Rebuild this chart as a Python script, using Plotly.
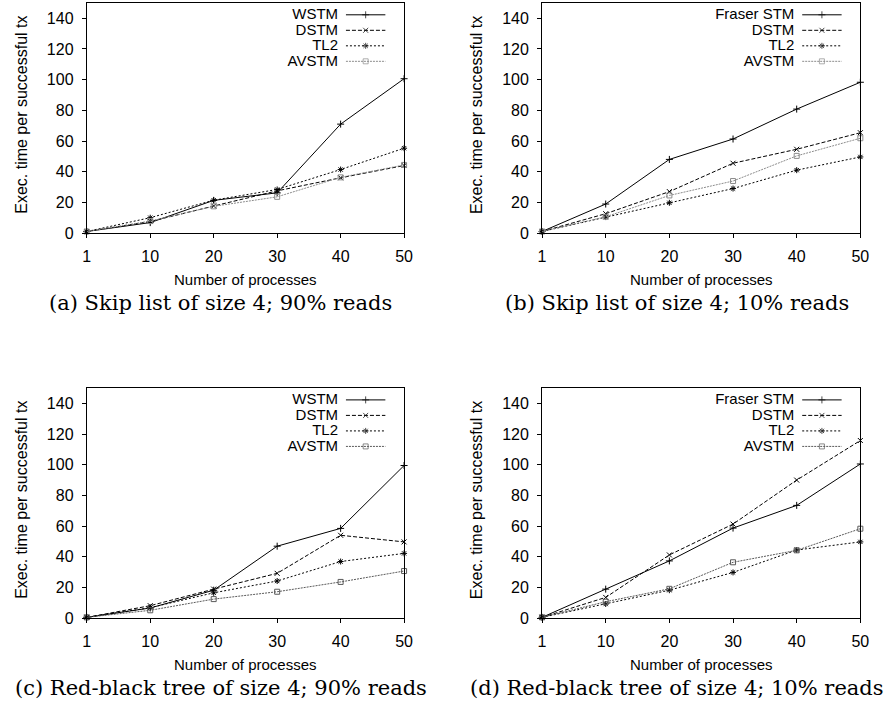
import plotly.graph_objects as go

W, H = 893, 715

procs = ["1", "10", "20", "30", "40", "50"]
y_ticks = [0, 20, 40, 60, 80, 100, 120, 140]

# (a) Skip list 90% reads
a_wstm = [1, 6.8, 21.3, 26.2, 71.0, 100.6]
a_dstm = [1, 7.5, 17.6, 27.5, 36.0, 44.0]
a_tl2 = [1, 10.0, 21.4, 28.4, 41.4, 55.3]
a_avstm = [1, 7.8, 17.4, 23.6, 36.3, 44.4]

# (b) Skip list 10% reads
b_fraser = [1, 18.9, 48.0, 61.3, 80.8, 98.3]
b_dstm = [1, 12.6, 27.0, 45.5, 54.6, 65.4]
b_tl2 = [1, 10.4, 19.7, 29.0, 41.0, 49.6]
b_avstm = [1, 10.6, 24.5, 33.9, 50.3, 61.8]

# (c) Red-black tree 90% reads
c_wstm = [0.5, 6.6, 18.2, 46.9, 58.5, 99.5]
c_dstm = [0.5, 8.1, 18.9, 29.2, 54.0, 49.7]
c_tl2 = [0.5, 6.8, 16.5, 24.2, 36.9, 42.2]
c_avstm = [0.5, 5.1, 12.4, 17.2, 23.6, 30.7]

# (d) Red-black tree 10% reads
d_fraser = [0.5, 18.9, 37.3, 58.7, 73.5, 100.5]
d_dstm = [0.5, 13.5, 41.2, 61.3, 90.0, 115.8]
d_tl2 = [0.5, 9.2, 18.2, 29.8, 44.4, 49.7]
d_avstm = [0.5, 10.7, 19.1, 36.4, 44.2, 58.3]

captions = [
    "(a) Skip list of size 4; 90% reads",
    "(b) Skip list of size 4; 10% reads",
    "(c) Red-black tree of size 4; 90% reads",
    "(d) Red-black tree of size 4; 10% reads",
]
x_title = "Number of processes"
y_title = "Exec. time per successful tx"

SANS = "Liberation Sans, Arial, sans-serif"
SERIF = "DejaVu Serif, serif"

# panel pixel boxes: (left, top, right, bottom)
boxes = [(84, 3, 406, 236), (546, 3, 869, 236), (84, 393, 406, 626), (546, 393, 869, 626)]

panels = [
    (["WSTM", "DSTM", "TL2", "AVSTM"], [a_wstm, a_dstm, a_tl2, a_avstm], "#8c8c8c"),
    (["Fraser STM", "DSTM", "TL2", "AVSTM"], [b_fraser, b_dstm, b_tl2, b_avstm], "#8c8c8c"),
    (["WSTM", "DSTM", "TL2", "AVSTM"], [c_wstm, c_dstm, c_tl2, c_avstm], "#5a5a5a"),
    (["Fraser STM", "DSTM", "TL2", "AVSTM"], [d_fraser, d_dstm, d_tl2, d_avstm], "#5a5a5a"),
]

styles = [
    dict(dash="solid", symbol="cross-thin", size=5),
    dict(dash="4px,2px", symbol="x-thin", size=5),
    dict(dash="2px,2px", symbol="asterisk", size=5),
    dict(dash="2px,1px", symbol="square-open", size=5),
]

fig = go.Figure()
layout = dict(
    width=W, height=H, margin=dict(l=0, r=0, t=0, b=0),
    paper_bgcolor="white", plot_bgcolor="rgba(0,0,0,0)", showlegend=False,
    font=dict(family=SANS, size=15, color="black"),
)
annotations = []

for i, ((names, series, grey), box) in enumerate(zip(panels, boxes)):
    L, T, R, B = box
    xa = "xaxis" if i == 0 else f"xaxis{i+1}"
    ya = "yaxis" if i == 0 else f"yaxis{i+1}"
    xr = "x" if i == 0 else f"x{i+1}"
    yr = "y" if i == 0 else f"y{i+1}"
    layout[xa] = dict(
        domain=[L / W, R / W], anchor=yr, type="category", range=[0, 5],
        showline=True, mirror=True, linecolor="black", linewidth=1,
        ticks="outside", ticklen=4, tickcolor="black", showgrid=False, zeroline=False,
        tickfont=dict(size=16, family=SANS), ticklabelstandoff=5,
    )
    layout[ya] = dict(
        domain=[1 - B / H, 1 - T / H], anchor=xr, range=[0, 150],
        tickvals=y_ticks, showline=True, mirror=True, linecolor="black", linewidth=1,
        ticks="outside", ticklen=4, tickcolor="black", showgrid=False, zeroline=False,
        tickfont=dict(size=16, family=SANS), ticklabelstandoff=5,
    )
    for j, (name, vals) in enumerate(zip(names, series)):
        st = styles[j]
        color = grey if j == 3 else "black"
        fig.add_trace(go.Scatter(
            x=procs, y=vals, xaxis=xr, yaxis=yr, mode="lines+markers", name=name,
            line=dict(color=color, width=1, dash=st["dash"]),
            marker=dict(symbol=st["symbol"], size=st["size"], color=color,
                        line=dict(color=color, width=1)),
            cliponaxis=False,
        ))
        # legend entry (manual, text left of sample)
        ly = T + 12 + j * 15.7
        fig.add_trace(go.Scatter(
            x=[R - 59, (R - 59 + R - 19) / 2, R - 19], y=[ly, ly, ly],
            xaxis="x9", yaxis="y9", mode="lines+markers", hoverinfo="skip",
            line=dict(color=color, width=1, dash=st["dash"]),
            marker=dict(symbol=st["symbol"], size=[0, st["size"], 0], color=color,
                        line=dict(color=color, width=1)),
        ))
        fig.add_trace(go.Scatter(
            x=[R - 67], y=[ly + 0.5], xaxis="x9", yaxis="y9", mode="text",
            text=[name], textposition="middle left", hoverinfo="skip",
            textfont=dict(size=15, family=SANS, color="black"),
        ))
    # axis titles
    annotations.append(dict(
        x=(L + R) / 2, y=B + 47, xref="x9", yref="y9", text=x_title, showarrow=False,
        xanchor="center", yanchor="middle", font=dict(size=15, family=SANS),
    ))
    annotations.append(dict(
        x=L - 67, y=(T + B) / 2 - 3, xref="x9", yref="y9", text=y_title, showarrow=False,
        textangle=-90, xanchor="center", yanchor="middle", font=dict(size=16, family=SANS),
    ))
    annotations.append(dict(
        x=(L + R) / 2 - 25, y=B + 71, xref="x9", yref="y9", text=captions[i], showarrow=False,
        xanchor="center", yanchor="middle", font=dict(size=21, family=SERIF),
    ))

layout["xaxis9"] = dict(domain=[0, 1], anchor="y9", range=[0, W], visible=False, fixedrange=True)
layout["yaxis9"] = dict(domain=[0, 1], anchor="x9", range=[H, 0], visible=False, fixedrange=True)
layout["annotations"] = annotations
fig.update_layout(**layout)
fig.write_html(
    "out.html",
    config={"displayModeBar": False},
    post_script="document.body.style.margin='0';document.body.style.overflow='hidden';",
)
